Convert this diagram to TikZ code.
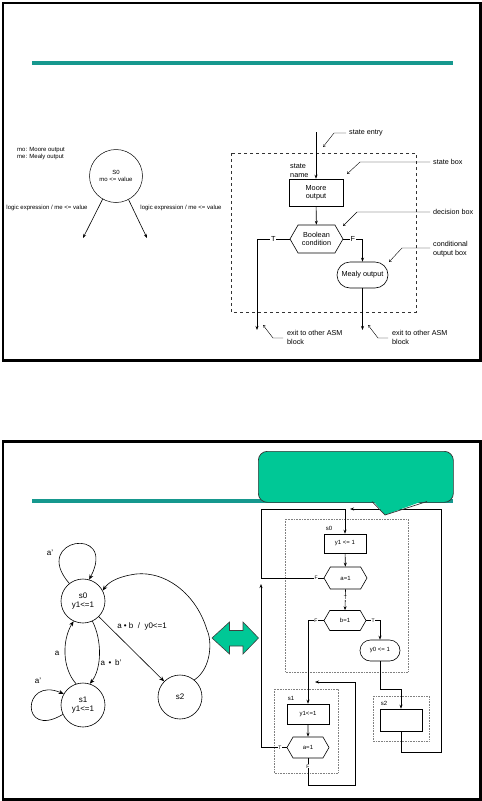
\documentclass[tikz,border=0pt]{standalone}
\usepackage{fontspec}
\setmainfont{Liberation Sans}
\usetikzlibrary{shapes.symbols,shapes.misc,arrows.meta}
\definecolor{tealline}{RGB}{22,152,142}
\definecolor{cgreen}{RGB}{0,200,150}
\begin{document}
\begin{tikzpicture}[x=1pt,y=-1pt,
  >={Stealth[length=4pt,width=3pt]},
  frame/.style={line width=2.5pt},
  tline/.style={line width=4pt,tealline},
  conn/.style={line width=0.6pt},
  lead/.style={line width=0.4pt,-{Straight Barb[length=2pt,width=3pt]}},
  tiny/.style={font=\fontsize{6}{7}\selectfont},
  asm/.style={font=\fontsize{7.3}{8.4}\selectfont},
  ann/.style={font=\fontsize{7.2}{8.3}\selectfont,anchor=west,align=left,inner sep=0pt},
  sd/.style={font=\fontsize{8}{9.5}\selectfont},
  fc/.style={font=\fontsize{6}{7}\selectfont},
  tf/.style={font=\fontsize{5}{6}\selectfont,fill=white,inner sep=0.4pt},
  abox/.style={draw,rectangle,align=center,inner sep=1pt,line width=0.6pt},
  ahex/.style={draw,signal,signal to=west and east,signal pointer angle=120,align=center,inner sep=1pt,line width=0.6pt},
  arbox/.style={draw,rounded rectangle,align=center,inner sep=1pt,line width=0.6pt},
  stc/.style={draw,circle,minimum size=44pt,inner sep=0pt,align=center,line width=0.6pt},
  dotbox/.style={densely dotted,gray,line width=0.6pt},
  sdarrow/.style={conn,-{Stealth[length=5pt,width=4pt]}}
]
\useasboundingbox (0,0) rectangle (482,801);

% ================= top slide =================
\draw[frame] (3,3) rectangle (480.5,360.5);
\draw[tline] (32,63) -- (453,63);

% left: state circle
\node[tiny,anchor=west,align=left,inner sep=0pt] (legend) at (17,153.5) {mo: Moore output\\me: Mealy output};
\node[draw,circle,minimum size=53pt,inner sep=0pt,align=center,tiny,line width=0.5pt] (S0) at (116,176) {S0\\mo <= value};
\coordinate (outL) at (83,238);
\coordinate (outR) at (147,238);
\draw[conn,->] (S0.240) -- (outL);
\draw[conn,->] (S0.-62) -- (outR);
\node[tiny,inner sep=0pt] (lblL) at (47,208) {logic expression / me <= value};
\node[tiny,inner sep=0pt] (lblR) at (181,208) {logic expression / me <= value};

% right: ASM block
\draw[dashed,line width=0.6pt,black!80] (231,153) rectangle (416,312);
\coordinate (entry) at (316,132);
\node[abox,asm,minimum width=54pt,minimum height=27pt] (moore) at (316,192.5) {Moore\\output};
\node[asm,anchor=west,align=left,inner sep=0pt] (sname) at (290,170.5) {state\\name};
\node[ahex,asm,minimum width=53pt,minimum height=28pt] (cond) at (316.5,239) {Boolean\\condition};
\node[arbox,asm,minimum width=53pt,minimum height=26pt] (mealy) at (362.5,275) {Mealy output};
\coordinate (exitT) at (257,330);
\coordinate (exitF) at (362.5,330);
\draw[conn,->] (entry) -- (moore.north);
\draw[conn,->] (moore) -- (cond);
\draw[conn,->] (cond.west) -| node[pos=0.25,asm,fill=white,inner sep=0.6pt] {T} (exitT);
\draw[conn,->] (cond.east) -| node[pos=0.25,asm,fill=white,inner sep=0.6pt] {F} (mealy.north);
\draw[conn,->] (mealy) -- (exitF);

% annotations
\node[ann] (aEntry) at (349,133) {state entry};
\draw[lead] (aEntry.west) ++(-3,0) -- ++(-12,0) -- ++(-11,14);
\node[ann] (aState) at (433,162) {state box};
\draw[lead] (aState.west) ++(-3,0) -- ++(-70,0) -- ++(-13,12);
\node[ann] (aDec) at (433,212) {decision box};
\draw[lead] (aDec.west) ++(-3,0) -- ++(-73,0) -- ++(-14,14);
\node[ann] (aCond) at (433,249) {conditional\\output box};
\draw[lead] (aCond.west) ++(-3,-1) -- ++(-28,0) -- ++(-13,14);
\node[ann] (aExit1) at (287,337.5) {exit to other ASM\\block};
\draw[lead] (aExit1.west) ++(-4,0.5) -- ++(-10,0) -- ++(-10,-13);
\node[ann] (aExit2) at (392,337.5) {exit to other ASM\\block};
\draw[lead] (aExit2.west) ++(-4,0.5) -- ++(-10,0) -- ++(-10,-13);

% ================= bottom slide =================
\draw[frame] (3,441.5) rectangle (480.5,799.5);
\draw[tline] (32,501) -- (453,501);

% state diagram
\node[stc,sd] (s0) at (83,601) {s0\\y1<=1};
\node[stc,sd] (s1) at (83,705) {s1\\y1<=1};
\node[stc,sd] (s2) at (180,697) {s2};
\draw[sdarrow] (s0.128) .. controls (30,538) and (118,525) .. (s0.74);
\draw[sdarrow] (s1.205) .. controls (20,740) and (22,676) .. (s1.150);
\draw[sdarrow] (s1.108) .. controls (62,668) and (62,640) .. (s0.245);
\draw[sdarrow] (s0.295) .. controls (102,640) and (102,668) .. (s1.72);
\draw[sdarrow] (s0) -- (s2);
\draw[sdarrow] (s2.50) .. controls (212,668) and (212,640) .. (207,630)
   .. controls (195,590) and (160,568) .. (130,575) .. controls (115,578) and (108,583) .. (s0.28);
\node[sd,inner sep=0pt] (la1) at (50,553) {a'};
\node[sd,inner sep=0pt] (la2) at (38,681) {a'};
\node[sd,inner sep=0pt] (la3) at (57,653) {a};
\node[sd,inner sep=0pt] (la4) at (111,663) {a \,•\, b'};
\node[sd,inner sep=0pt] (la5) at (142,626) {a • b \;/\; y0<=1};

% double arrow
\filldraw[fill=cgreen,draw=black!75,line width=0.6pt] (212,638) -- (229.5,622) -- (229.5,630.5) -- (243,630.5) -- (243,622) -- (258.5,638)
  -- (243,654) -- (243,646) -- (229.5,646) -- (229.5,654) -- cycle;

% flowchart
\draw[dotbox] (285,519) rectangle (408,672);
\draw[dotbox] (274,689) rectangle (338,773);
\draw[dotbox] (373,696) rectangle (429,741);
\node[fc,inner sep=0pt] (ls0) at (329,528) {s0};
\node[fc,inner sep=0pt] (ls1) at (291,698) {s1};
\node[fc,inner sep=0pt] (ls2) at (384,703) {s2};

\node[abox,fc,minimum width=42pt,minimum height=19pt] (y1a) at (345,543.5) {y1 <= 1};
\node[ahex,fc,minimum width=43pt,minimum height=22pt] (a1) at (345.5,578) {a=1};
\node[ahex,fc,minimum width=42pt,minimum height=20pt] (b1) at (345,620.5) {b=1};
\node[arbox,fc,minimum width=42pt,minimum height=21pt] (y0) at (380,650.5) {y0 <= 1};
\node[abox,fc,minimum width=42pt,minimum height=22pt] (s2box) at (401,720) {};
\node[abox,fc,minimum width=42pt,minimum height=20pt] (s1box) at (308,714) {y1<=1};
\node[ahex,fc,minimum width=42pt,minimum height=21pt] (a1b) at (308,747.5) {a=1};

\coordinate (cL1) at (261,509);
\coordinate (cR1) at (441,752);
\coordinate (cR2) at (441,509);
\coordinate (cR3) at (350,509);
\coordinate (cS2) at (401,689);
\coordinate (cUp) at (261,584);
\coordinate (cB1) at (308,785);
\coordinate (cB2) at (355,682);
\coordinate (cB3) at (315,682);

\draw[conn,->] (a1.west) -| node[tf,pos=0.06] {F} (cL1) -| (y1a.north);
\draw[conn,->] (s2box.south) |- (cR1) -- (cR2) -- (cR3);
\draw[conn,->] (y1a) -- (a1);
\draw[conn,->] (a1.south) -- node[tf,pos=0.4] {T} (b1.north);
\draw[conn,->] (b1.west) -| node[tf,pos=0.25] {F} (s1box.north);
\draw[conn,->] (b1.east) -| node[tf,pos=0.25] {T} (y0.north);
\draw[conn,->] (y0.south) |- (cS2) -- (s2box.north);
\draw[conn,->] (s1box) -- (a1b);
\draw[conn,->] (a1b.west) -| node[tf,pos=0.13] {T} (cUp);
\draw[conn,->] (a1b.south) -- node[tf,pos=0.3] {F} (cB1) -| (cB2) -- (cB3);

% callout
\node[draw=black!80,fill=cgreen,rounded corners=9pt,minimum width=195pt,minimum height=51pt,anchor=north west,line width=0.7pt] (callout) at (258,451) {};
\fill[cgreen] (372,499.5) -- (385,515) -- (427,499.5) -- cycle;
\draw[black!80,line width=0.7pt] (372,501.5) -- (385,515) -- (427,501.5);
\end{tikzpicture}
\end{document}
